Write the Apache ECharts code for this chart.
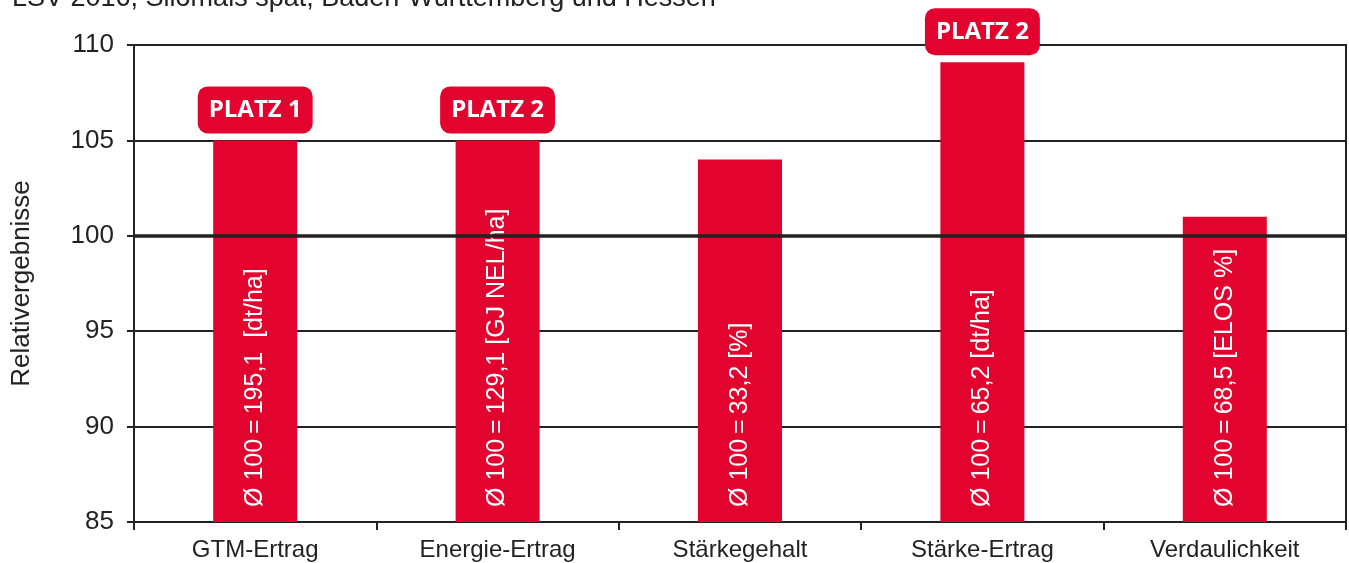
<!DOCTYPE html>
<html>
<head>
<meta charset="utf-8">
<script src="https://cdn.jsdelivr.net/npm/echarts@6/dist/echarts.min.js"></script>
<style>
  html, body { margin: 0; padding: 0; background: #fff; }
  #chart { width: 1349px; height: 563px; }
</style>
</head>
<body>
<div id="chart"></div>
<script>
// Landessortenversuch – relative results per trait
var categories = ["GTM-Ertrag", "Energie-Ertrag", "Stärkegehalt", "Stärke-Ertrag", "Verdaulichkeit"];
var relValues = [105, 105, 104, 109.1, 101];
var baseTexts = [
  "Ø 100\u2009=\u2009195,1  [dt/ha]",
  "Ø 100\u2009=\u2009129,1 [GJ NEL/ha]",
  "Ø 100\u2009=\u200933,2 [%]",
  "Ø 100\u2009=\u200965,2 [dt/ha]",
  "Ø 100\u2009=\u200968,5 [ELOS %]"
];
var badges = ["PLATZ 1", "PLATZ 2", "", "PLATZ 2", ""];
var yTicks = { min: 85, max: 110, interval: 5 };

var red = "#e2032e";
var dark = "#222";

var chart = echarts.init(document.getElementById("chart"));

var badgeData = relValues.map(function (v, i) {
  return {
    value: v,
    label: { show: badges[i] !== "" }
  };
});

chart.setOption({
  animation: false,
  title: {
    text: "LSV 2016, Silomais spät, Baden-Württemberg und Hessen",
    left: 7,
    top: -20,
    textStyle: { fontFamily: "Liberation Sans", fontSize: 27, fontWeight: "normal", color: dark }
  },
  grid: {
    left: 134, right: 3, top: 45, bottom: 41,
    show: true, borderColor: dark, borderWidth: 2, backgroundColor: "transparent"
  },
  xAxis: {
    type: "category",
    data: categories,
    axisLine: { lineStyle: { color: dark, width: 2 } },
    axisTick: { show: true, length: 8, lineStyle: { color: dark, width: 2 } },
    axisLabel: { fontFamily: "Liberation Sans", fontSize: 24, color: dark, margin: 16 }
  },
  yAxis: {
    type: "value",
    min: yTicks.min, max: yTicks.max, interval: yTicks.interval,
    name: "Relativergebnisse",
    nameLocation: "middle",
    nameGap: 99,
    nameTextStyle: { fontFamily: "Liberation Sans", fontSize: 26, color: dark },
    axisLine: { show: true, lineStyle: { color: dark, width: 2 } },
    axisTick: { show: true, length: 7, lineStyle: { color: dark, width: 2 } },
    axisLabel: { fontFamily: "Liberation Sans", fontSize: 26, color: dark, margin: 20 },
    splitLine: { lineStyle: { color: dark, width: 2 } }
  },
  series: [
    {
      type: "bar",
      data: badgeData,
      barWidth: 84,
      itemStyle: { color: red },
      label: {
        position: "top",
        distance: 7,
        formatter: function (p) { return badges[p.dataIndex]; },
        color: "#fff",
        fontFamily: "Open Sans",
        fontWeight: "bold",
        fontSize: 24,
        lineHeight: 30,
        backgroundColor: red,
        borderRadius: 10,
        padding: [9, 11, 8, 11]
      },
      markLine: {
        silent: true,
        symbol: "none",
        label: { show: false },
        lineStyle: { color: dark, width: 3.5, type: "solid" },
        data: [{ yAxis: 100 }]
      },
      z: 2
    },
    {
      type: "bar",
      data: relValues,
      barWidth: 84,
      barGap: "-100%",
      itemStyle: { color: "transparent" },
      label: {
        show: true,
        position: "insideBottom",
        rotate: 90,
        align: "left",
        verticalAlign: "middle",
        distance: 15,
        formatter: function (p) { return baseTexts[p.dataIndex]; },
        color: "#fff",
        fontFamily: "Liberation Sans",
        fontSize: 25
      },
      z: 3
    }
  ]
});
</script>
</body>
</html>
